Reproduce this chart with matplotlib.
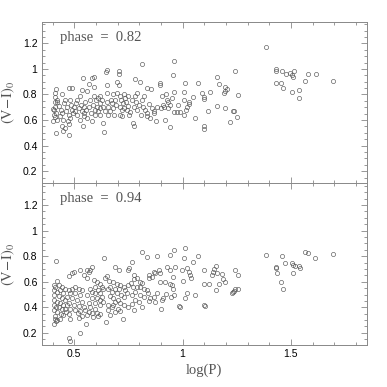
import numpy as np
import matplotlib
matplotlib.use("Agg")
import matplotlib.pyplot as plt
from matplotlib.ticker import MultipleLocator, FuncFormatter

# (log P, (V-I)_0) pairs
phase82_pts = [
    (0.41, 0.815), (0.415, 0.84), (0.41, 0.78), (0.40, 0.69), (0.405, 0.68), (0.41, 0.705),
    (0.405, 0.64), (0.41, 0.62), (0.40, 0.59), (0.42, 0.60), (0.418, 0.655), (0.42, 0.74),
    (0.41, 0.745), (0.415, 0.50), (0.42, 0.76),
    (0.432, 0.71), (0.438, 0.68), (0.443, 0.655), (0.435, 0.63), (0.448, 0.60), (0.443, 0.55),
    (0.45, 0.515), (0.458, 0.535), (0.453, 0.73), (0.458, 0.76), (0.445, 0.805), (0.466, 0.705),
    (0.463, 0.67), (0.474, 0.64), (0.469, 0.59), (0.478, 0.57), (0.478, 0.485), (0.475, 0.85),
    (0.488, 0.85), (0.48, 0.76), (0.483, 0.72), (0.49, 0.68), (0.482, 0.615), (0.494, 0.655),
    (0.50, 0.705), (0.505, 0.67), (0.509, 0.73), (0.512, 0.76), (0.515, 0.64), (0.52, 0.695),
    (0.525, 0.785), (0.528, 0.60), (0.53, 0.72), (0.535, 0.67), (0.535, 0.835), (0.54, 0.93),
    (0.543, 0.63), (0.54, 0.555), (0.546, 0.705), (0.55, 0.745), (0.546, 0.655),
    (0.555, 0.68), (0.56, 0.825), (0.56, 0.615), (0.566, 0.705), (0.57, 0.885), (0.574, 0.76),
    (0.577, 0.655), (0.582, 0.93), (0.583, 0.59), (0.586, 0.72), (0.589, 0.785), (0.592, 0.94),
    (0.592, 0.86), (0.594, 0.68), (0.597, 0.64), (0.60, 0.76), (0.605, 0.705), (0.609, 0.77),
    (0.612, 0.67), (0.617, 0.73), (0.62, 0.785), (0.62, 0.64), (0.62, 0.695),
    (0.628, 0.76), (0.632, 0.575), (0.635, 0.705), (0.637, 0.51), (0.643, 0.67), (0.645, 0.975),
    (0.65, 0.99), (0.65, 0.875), (0.65, 0.81), (0.65, 0.745), (0.654, 0.64), (0.658, 0.705),
    (0.666, 0.67), (0.67, 0.76), (0.674, 0.73), (0.678, 0.80), (0.68, 0.695), (0.685, 0.64),
    (0.69, 0.76), (0.694, 0.72), (0.697, 0.90), (0.697, 0.81),
    (0.705, 0.875), (0.708, 0.98), (0.708, 0.96), (0.71, 0.785), (0.712, 0.705), (0.712, 0.64),
    (0.715, 0.76), (0.72, 0.63), (0.72, 0.68), (0.725, 0.73), (0.728, 0.80), (0.73, 0.695),
    (0.735, 0.77), (0.74, 0.745), (0.743, 0.68), (0.746, 0.79), (0.75, 0.71), (0.754, 0.64),
    (0.758, 0.665), (0.766, 0.76),
    (0.77, 0.577), (0.774, 0.55), (0.777, 0.70), (0.78, 0.92), (0.782, 0.785), (0.786, 0.745),
    (0.79, 0.68), (0.792, 0.81), (0.797, 0.72), (0.805, 0.90), (0.808, 0.64), (0.812, 1.04),
    (0.812, 0.76), (0.817, 0.705), (0.82, 0.785), (0.828, 0.68), (0.835, 0.85), (0.835, 0.63),
    (0.838, 0.655), (0.843, 0.725), (0.848, 0.615), (0.854, 0.84),
    (0.858, 0.695), (0.866, 0.67), (0.87, 0.655), (0.878, 0.59), (0.882, 0.70), (0.897, 0.888),
    (0.897, 0.875), (0.90, 0.695), (0.905, 0.79), (0.91, 0.72), (0.915, 0.70), (0.92, 0.60),
    (0.925, 0.80), (0.928, 0.758), (0.935, 0.745), (0.935, 0.695), (0.94, 0.545), (0.943, 0.72),
    (0.952, 0.775), (0.954, 0.955), (0.96, 1.065), (0.96, 0.82), (0.96, 0.665), (0.974, 0.665),
    (0.977, 0.72), (0.99, 0.665), (1.006, 0.823), (1.008, 0.757), (1.008, 0.64), (1.01, 0.888),
    (1.017, 0.68), (1.02, 0.706), (1.028, 0.745), (1.032, 0.725), (1.048, 0.777), (1.058, 0.615),
    (1.072, 0.888), (1.09, 0.815), (1.097, 0.78), (1.10, 0.767), (1.10, 0.556), (1.10, 0.53),
    (1.118, 0.667), (1.125, 0.82), (1.158, 0.938), (1.158, 0.71), (1.17, 0.883), (1.19, 0.815),
    (1.195, 0.83), (1.198, 0.862), (1.205, 0.846), (1.194, 0.696), (1.22, 0.584), (1.232, 0.667),
    (1.238, 0.667), (1.243, 0.987), (1.25, 0.621), (1.255, 0.795),
    (1.386, 1.17), (1.429, 0.997), (1.431, 0.982), (1.46, 0.982), (1.477, 0.961), (1.497, 0.966),
    (1.506, 0.95), (1.515, 0.987), (1.512, 0.935), (1.58, 0.961), (1.614, 0.961), (1.565, 0.909),
    (1.694, 0.909), (1.429, 0.888), (1.454, 0.888), (1.463, 0.849), (1.506, 0.816), (1.537, 0.839),
    (1.537, 0.769),
]

phase94_pts = [
    (1.386, 0.808), (1.458, 0.80), (1.563, 0.835), (1.577, 0.827), (1.612, 0.787), (1.694, 0.816),
    (1.503, 0.743), (1.475, 0.743), (1.512, 0.73), (1.518, 0.722), (1.537, 0.722), (1.54, 0.704),
    (1.432, 0.712), (1.429, 0.704), (1.435, 0.665), (1.454, 0.60), (1.463, 0.54), (1.512, 0.672),
    (1.012, 0.86), (1.07, 0.80), (1.048, 0.756), (1.008, 0.782), (0.997, 0.69), (1.02, 0.704),
    (1.03, 0.678), (1.035, 0.652), (1.04, 0.626), (1.00, 0.607), (1.02, 0.508), (1.012, 0.469),
    (1.058, 0.495), (1.097, 0.695), (1.10, 0.586), (1.12, 0.586), (1.10, 0.416), (1.105, 0.41),
    (1.135, 0.652), (1.14, 0.678), (1.146, 0.70), (1.153, 0.72), (1.157, 0.67), (1.155, 0.534),
    (1.17, 0.586), (1.18, 0.66), (1.188, 0.618), (1.194, 0.60), (1.226, 0.508), (1.232, 0.52),
    (1.238, 0.528), (1.243, 0.54), (1.254, 0.545), (1.243, 0.69), (1.255, 0.652),
    (0.882, 0.80), (0.812, 0.835), (0.835, 0.795), (0.96, 0.848), (0.94, 0.808), (0.966, 0.717),
    (0.943, 0.69), (0.928, 0.717), (0.897, 0.67), (0.89, 0.69), (0.874, 0.665), (0.866, 0.678),
    (0.858, 0.64), (0.843, 0.652), (0.846, 0.63), (0.897, 0.60), (0.92, 0.60), (0.943, 0.586),
    (0.95, 0.573), (0.958, 0.54), (0.946, 0.482), (0.923, 0.502), (0.91, 0.47), (0.905, 0.456),
    (0.902, 0.388), (0.882, 0.508), (0.866, 0.482), (0.874, 0.443), (0.835, 0.534), (0.84, 0.508),
    (0.85, 0.469), (0.843, 0.448), (0.982, 0.409), (0.986, 0.404), (0.96, 0.495), (0.958, 0.64),
    (0.766, 0.756), (0.755, 0.704), (0.75, 0.69), (0.774, 0.652), (0.79, 0.626), (0.805, 0.60),
    (0.812, 0.592), (0.774, 0.618), (0.762, 0.592), (0.75, 0.573), (0.77, 0.56), (0.79, 0.56),
    (0.805, 0.56), (0.82, 0.547), (0.782, 0.52), (0.766, 0.495), (0.805, 0.495), (0.82, 0.482),
    (0.782, 0.46), (0.797, 0.443), (0.766, 0.425), (0.75, 0.404), (0.774, 0.378), (0.812, 0.404),
    (0.743, 0.508),
    (0.69, 0.717), (0.705, 0.695), (0.638, 0.782), (0.65, 0.644), (0.643, 0.633), (0.66, 0.607),
    (0.68, 0.60), (0.697, 0.586), (0.712, 0.573), (0.728, 0.56), (0.735, 0.534), (0.666, 0.56),
    (0.654, 0.547), (0.69, 0.547), (0.705, 0.54), (0.674, 0.52), (0.697, 0.508), (0.716, 0.495),
    (0.732, 0.482), (0.666, 0.487), (0.68, 0.469), (0.70, 0.456), (0.69, 0.443), (0.712, 0.43),
    (0.658, 0.417), (0.68, 0.417), (0.728, 0.417), (0.674, 0.40), (0.70, 0.39), (0.712, 0.372),
    (0.658, 0.378), (0.69, 0.365), (0.725, 0.305), (0.647, 0.286), (0.666, 0.338),
    (0.558, 0.691), (0.566, 0.678), (0.574, 0.691), (0.582, 0.717), (0.543, 0.652), (0.56, 0.633),
    (0.589, 0.613), (0.605, 0.60), (0.62, 0.586), (0.628, 0.56), (0.635, 0.547), (0.597, 0.56),
    (0.612, 0.534), (0.574, 0.547), (0.582, 0.52), (0.597, 0.508), (0.62, 0.508), (0.628, 0.482),
    (0.56, 0.495), (0.582, 0.469), (0.605, 0.469), (0.62, 0.456), (0.635, 0.443), (0.566, 0.435),
    (0.597, 0.43), (0.62, 0.417), (0.574, 0.404), (0.597, 0.39), (0.55, 0.378), (0.566, 0.365),
    (0.582, 0.357), (0.605, 0.357), (0.62, 0.346), (0.558, 0.338), (0.586, 0.325), (0.555, 0.273),
    (0.612, 0.33),
    (0.478, 0.644), (0.49, 0.665), (0.497, 0.678), (0.528, 0.695), (0.505, 0.56), (0.49, 0.547),
    (0.52, 0.547), (0.535, 0.534), (0.474, 0.534), (0.482, 0.508), (0.505, 0.508), (0.528, 0.495),
    (0.466, 0.482), (0.49, 0.469), (0.512, 0.456), (0.535, 0.443), (0.474, 0.43), (0.497, 0.417),
    (0.52, 0.41), (0.543, 0.404), (0.482, 0.39), (0.505, 0.378), (0.528, 0.372), (0.474, 0.346),
    (0.516, 0.352), (0.535, 0.33), (0.482, 0.305), (0.52, 0.32), (0.474, 0.156), (0.482, 0.138),
    (0.528, 0.202),
    (0.417, 0.764), (0.42, 0.607), (0.405, 0.573), (0.41, 0.56), (0.428, 0.573), (0.443, 0.56),
    (0.458, 0.547), (0.405, 0.534), (0.42, 0.52), (0.435, 0.534), (0.45, 0.508), (0.405, 0.495),
    (0.428, 0.487), (0.443, 0.469), (0.458, 0.456), (0.405, 0.456), (0.42, 0.443), (0.435, 0.43),
    (0.45, 0.417), (0.405, 0.417), (0.416, 0.404), (0.43, 0.40), (0.443, 0.383), (0.458, 0.39),
    (0.408, 0.378), (0.42, 0.365), (0.437, 0.351), (0.45, 0.338), (0.412, 0.33), (0.412, 0.312),
    (0.416, 0.292), (0.408, 0.273), (0.42, 0.30), (0.435, 0.312), (0.466, 0.417), (0.463, 0.365),
]

phases = ["0.82", "0.94"]

plt.rcParams['mathtext.fontset'] = 'stix'
serif = "Liberation Serif"
sans = "Liberation Sans"
frame_col = "#888888"
text_col = "#555555"

fig = plt.figure(figsize=(3.87, 3.87), dpi=100)
ax1 = fig.add_axes([0.1078, 0.5264, 0.8398, 0.4176])
ax2 = fig.add_axes([0.1078, 0.1085, 0.8398, 0.4179])

for ax, pts, ph in zip([ax1, ax2], [phase82_pts, phase94_pts], phases):
    x, y = np.array(pts).T
    ax.plot(x, y, 'o', ms=3.0, mfc='none', mec='#555555', mew=0.45)
    ax.set_xlim(0.35, 1.85)
    ax.set_ylim(0.105, 1.37)
    ax.xaxis.set_major_locator(MultipleLocator(0.5))
    ax.xaxis.set_minor_locator(MultipleLocator(0.1))
    ax.yaxis.set_major_locator(MultipleLocator(0.2))
    ax.yaxis.set_minor_locator(MultipleLocator(0.05))
    ax.yaxis.set_major_formatter(FuncFormatter(lambda v, p: '%g' % round(v, 2)))
    ax.xaxis.set_major_formatter(FuncFormatter(lambda v, p: '%g' % round(v, 2)))
    ax.tick_params(which='both', direction='in', top=True, right=True,
                   color=frame_col, width=0.6, labelsize=7.5, pad=3)
    ax.tick_params(which='major', length=4)
    ax.tick_params(which='minor', length=2)
    for lab in ax.get_xticklabels() + ax.get_yticklabels():
        lab.set_family(sans)
    for s in ax.spines.values():
        s.set_color(frame_col)
        s.set_linewidth(0.7)
    ax.text(0.055, 0.905, 'phase  =  ' + ph, transform=ax.transAxes,
            family=serif, fontsize=10.5, color=text_col, va='center')
    ax.set_ylabel(r'$\mathrm{(V\!-\!I)_0}$', fontsize=10.5, color=text_col, labelpad=4)

ax1.tick_params(labelbottom=False)
ax2.set_xlabel('log(P)', family=serif, fontsize=10.5, color=text_col, labelpad=3)

fig.savefig('out.png', dpi=100)
